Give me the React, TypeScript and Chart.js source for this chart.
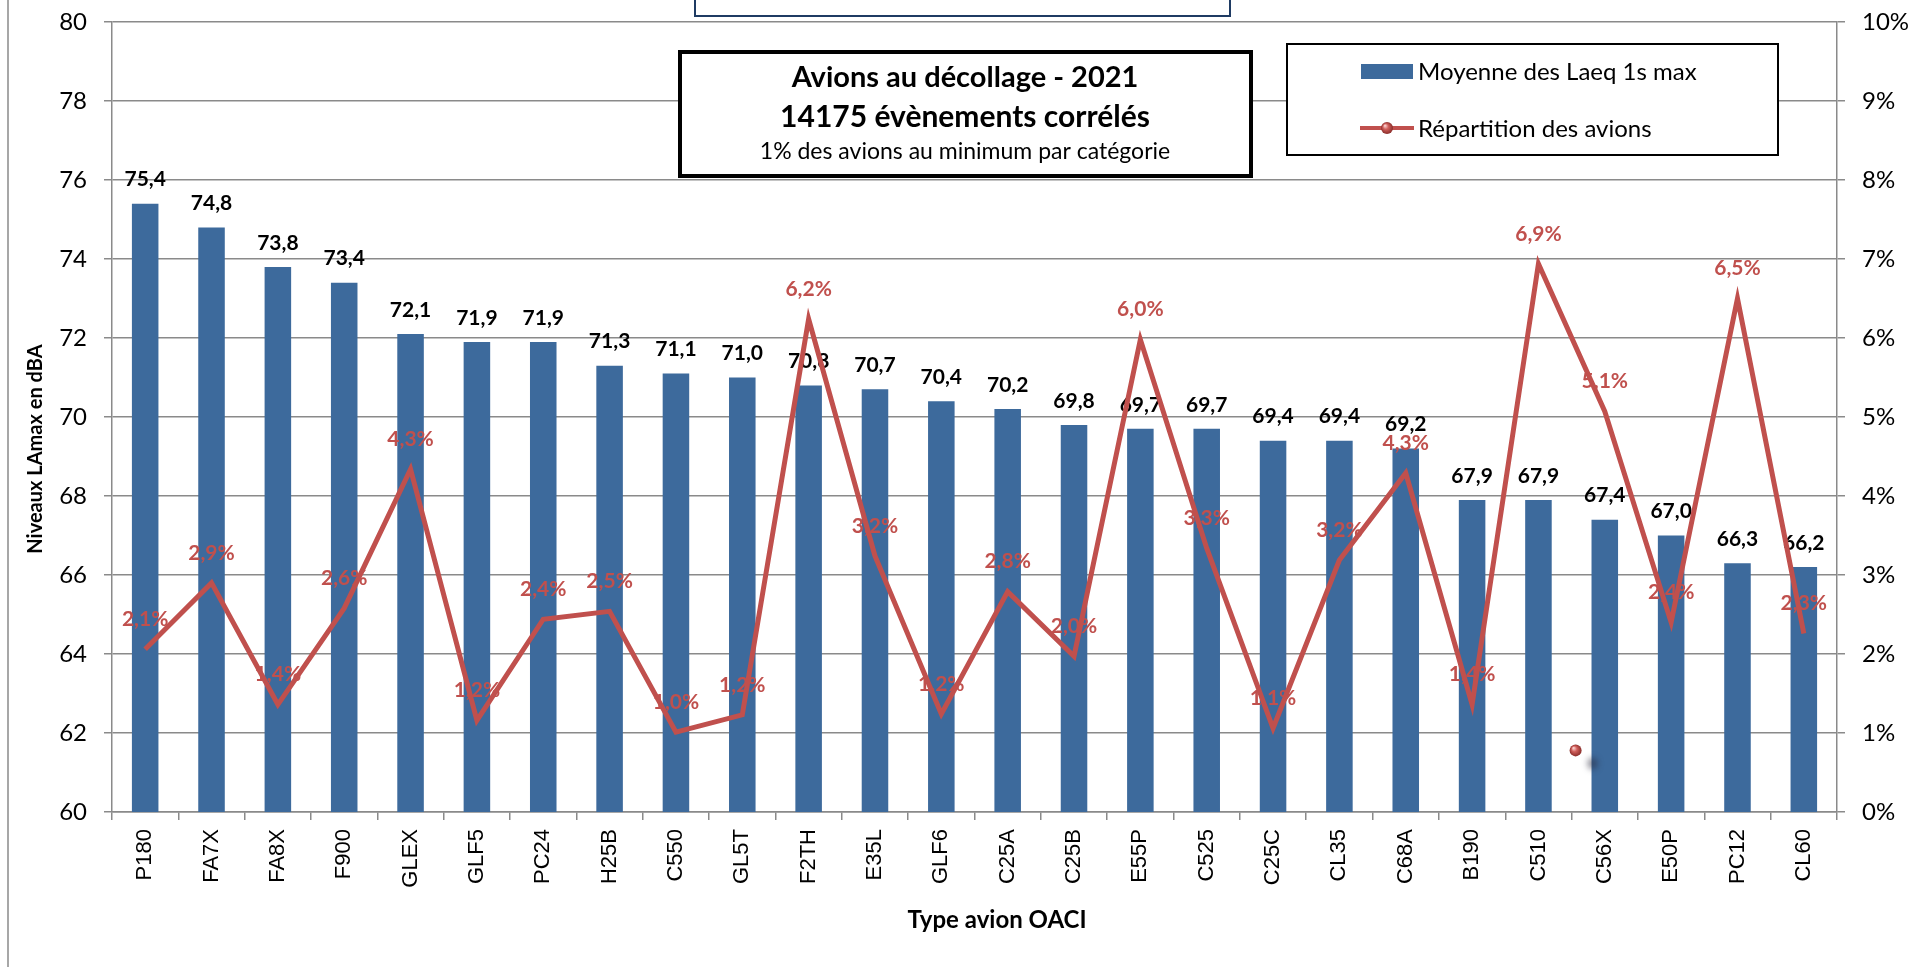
import React, { useEffect, useRef } from 'react';
import { Chart, registerables } from 'chart.js';

Chart.register(...registerables);

// ---------- data ----------
const categories = ['P180', 'FA7X', 'FA8X', 'F900', 'GLEX', 'GLF5', 'PC24', 'H25B', 'C550', 'GL5T', 'F2TH', 'E35L', 'GLF6', 'C25A', 'C25B', 'E55P', 'C525', 'C25C', 'CL35', 'C68A', 'B190', 'C510', 'C56X', 'E50P', 'PC12', 'CL60'];
const laeqMax = [75.4, 74.8, 73.8, 73.4, 72.1, 71.9, 71.9, 71.3, 71.1, 71.0, 70.8, 70.7, 70.4, 70.2, 69.8, 69.7, 69.7, 69.4, 69.4, 69.2, 67.9, 67.9, 67.4, 67.0, 66.3, 66.2];
const repartition = [2.06, 2.9, 1.36, 2.58, 4.34, 1.16, 2.44, 2.54, 1.01, 1.23, 6.24, 3.24, 1.24, 2.79, 1.97, 5.98, 3.34, 1.06, 3.19, 4.29, 1.36, 6.94, 5.07, 2.4, 6.5, 2.26];
const leftAxis = { min: 60, max: 80, step: 2 };
const rightAxis = { min: 0, max: 10, step: 1 };
const seriesNames = ['Moyenne des Laeq 1s max', 'Répartition des avions'];
const titleLines = ['Avions au décollage - 2021', '14175 évènements corrélés', '1% des avions au minimum par catégorie'];
const yAxisTitle = 'Niveaux LAmax en dBA';
const xAxisTitle = 'Type avion OACI';
const strayMarker = { index: 21.56, value: 0.78 };

// ---------- styles ----------
const BAR = '#3d6a9c';
const LINE = '#c0504d';
const GRID = '#8a8a8a';
const FONT = 'Lato';

const fmt = (v: number) => v.toFixed(1).replace('.', ',');

function sphere(ctx: CanvasRenderingContext2D, x: number, y: number, r: number) {
  const g = ctx.createRadialGradient(x - r * 0.35, y - r * 0.4, r * 0.1, x, y, r);
  g.addColorStop(0, '#f7c9c7');
  g.addColorStop(0.4, '#d05f5b');
  g.addColorStop(1, '#8a2d2a');
  ctx.beginPath();
  ctx.arc(x, y, r, 0, Math.PI * 2);
  ctx.fillStyle = g;
  ctx.fill();
}

const decorPlugin = {
  id: 'decor',
  beforeDatasetDraw(chart: any, args: any) {
    if (args.index !== 1) return;
    const ctx = chart.ctx as CanvasRenderingContext2D;
    ctx.save();
    ctx.textAlign = 'center';
    ctx.textBaseline = 'middle';
    ctx.font = `bold 21px ${FONT}`;
    ctx.fillStyle = '#000';
    chart.getDatasetMeta(0).data.forEach((el: any, i: number) => {
      ctx.fillText(fmt(laeqMax[i]), el.x, el.y - 24);
    });
    ctx.fillStyle = LINE;
    chart.getDatasetMeta(1).data.forEach((el: any, i: number) => {
      ctx.fillText(fmt(repartition[i]) + '%', el.x, el.y - 30);
    });
    ctx.restore();
  },
  afterDraw(chart: any) {
    const ctx = chart.ctx as CanvasRenderingContext2D;
    ctx.save();

    // outer frame line on the left
    ctx.strokeStyle = GRID;
    ctx.lineWidth = 1.5;
    ctx.beginPath();
    ctx.moveTo(8, 0);
    ctx.lineTo(8, chart.height);
    ctx.stroke();

    // partial box at top
    ctx.strokeStyle = '#1f3b63';
    ctx.lineWidth = 2;
    ctx.fillStyle = '#fff';
    ctx.fillRect(695, -5, 535, 21);
    ctx.strokeRect(695, -5, 535, 21);

    // title box
    ctx.fillStyle = '#fff';
    ctx.fillRect(680, 52, 571, 124);
    ctx.strokeStyle = '#000';
    ctx.lineWidth = 4;
    ctx.strokeRect(680, 52, 571, 124);
    ctx.fillStyle = '#000';
    ctx.textAlign = 'center';
    ctx.textBaseline = 'middle';
    ctx.font = `bold 29px ${FONT}`;
    ctx.fillText(titleLines[0], 965, 78);
    ctx.font = `bold 30px ${FONT}`;
    ctx.fillText(titleLines[1], 965, 117);
    ctx.font = `23px ${FONT}`;
    ctx.fillText(titleLines[2], 965, 152);

    // legend box
    ctx.fillStyle = '#fff';
    ctx.fillRect(1287, 44, 491, 111);
    ctx.strokeStyle = '#000';
    ctx.lineWidth = 2;
    ctx.strokeRect(1287, 44, 491, 111);
    ctx.fillStyle = BAR;
    ctx.fillRect(1361, 64, 52, 15);
    ctx.strokeStyle = LINE;
    ctx.lineWidth = 4;
    ctx.beginPath();
    ctx.moveTo(1360, 128);
    ctx.lineTo(1414, 128);
    ctx.stroke();
    sphere(ctx, 1387, 128, 6);
    ctx.fillStyle = '#000';
    ctx.textAlign = 'left';
    ctx.font = `24px ${FONT}`;
    ctx.fillText(seriesNames[0], 1418, 72);
    ctx.fillText(seriesNames[1], 1418, 129);

    // axis titles
    ctx.textAlign = 'center';
    ctx.font = `bold 20px ${FONT}`;
    ctx.save();
    ctx.translate(36, 449);
    ctx.rotate(-Math.PI / 2);
    ctx.fillText(yAxisTitle, 0, 0);
    ctx.restore();
    ctx.font = `bold 24px ${FONT}`;
    ctx.fillText(xAxisTitle, 997, 920);

    // stray marker
    const sx = chart.scales.x.getPixelForValue(strayMarker.index);
    const sy = chart.scales.y1.getPixelForValue(strayMarker.value);
    ctx.save();
    ctx.filter = 'blur(3px)';
    ctx.fillStyle = 'rgba(40,40,60,0.55)';
    ctx.beginPath();
    ctx.ellipse(sx + 17, sy + 13, 5, 6, 0, 0, Math.PI * 2);
    ctx.fill();
    ctx.restore();
    sphere(ctx, sx, sy, 6);

    ctx.restore();
  },
};

export default function App() {
  const ref = useRef<HTMLCanvasElement | null>(null);

  useEffect(() => {
    document.body.style.margin = '0';
    const canvas = ref.current;
    if (!canvas) return;
    const chart = new Chart(canvas, {
      type: 'bar',
      data: {
        labels: categories,
        datasets: [
          {
            type: 'bar',
            label: seriesNames[0],
            data: laeqMax,
            backgroundColor: BAR,
            barPercentage: 0.4,
            categoryPercentage: 1,
            yAxisID: 'y',
            order: 2,
          } as any,
          {
            type: 'line',
            label: seriesNames[1],
            data: repartition,
            borderColor: LINE,
            backgroundColor: LINE,
            borderWidth: 5,
            borderJoinStyle: 'miter',
            pointRadius: 0,
            pointBorderWidth: 0,
            pointHitRadius: 0,
            tension: 0,
            yAxisID: 'y1',
            order: 1,
          } as any,
        ],
      },
      options: {
        animation: false,
        responsive: false,
        devicePixelRatio: 1,
        layout: { autoPadding: false, padding: { top: 22, left: 0, right: 0, bottom: 0 } },
        plugins: {
          legend: { display: false },
          tooltip: { enabled: false },
          title: { display: false },
        },
        scales: {
          x: {
            offset: true,
            grid: { display: true, drawOnChartArea: false, drawTicks: true, tickLength: 8, offset: true, color: GRID, lineWidth: 1.5 },
            border: { display: true, color: GRID, width: 1.5 },
            ticks: {
              autoSkip: false,
              minRotation: 90,
              maxRotation: 90,
              padding: 9,
              color: '#000',
              font: { family: 'Liberation Sans', size: 22 },
            },
            afterFit: (s: any) => { s.height = 155; s.paddingLeft = 0; s.paddingRight = 0; },
          },
          y: {
            position: 'left',
            min: leftAxis.min,
            max: leftAxis.max,
            ticks: { stepSize: leftAxis.step, padding: 17, color: '#000', font: { family: FONT, size: 24 } },
            grid: { color: GRID, lineWidth: 1.5, drawTicks: true, tickLength: 8 },
            border: { display: true, color: GRID, width: 1.5 },
            afterFit: (s: any) => { s.width = 112; s.paddingTop = 0; s.paddingBottom = 0; },
          },
          y1: {
            position: 'right',
            min: rightAxis.min,
            max: rightAxis.max,
            ticks: {
              stepSize: rightAxis.step,
              padding: 17,
              color: '#000',
              font: { family: FONT, size: 24 },
              callback: (v: any) => `${v}%`,
            },
            grid: { drawOnChartArea: false, color: GRID, lineWidth: 1.5, drawTicks: true, tickLength: 8 },
            border: { display: true, color: GRID, width: 1.5 },
            afterFit: (s: any) => { s.width = 73; s.paddingTop = 0; s.paddingBottom = 0; },
          },
        },
      } as any,
      plugins: [decorPlugin],
    });
    return () => chart.destroy();
  }, []);

  return <canvas ref={ref} width={1910} height={967} style={{ display: 'block' }} />;
}
